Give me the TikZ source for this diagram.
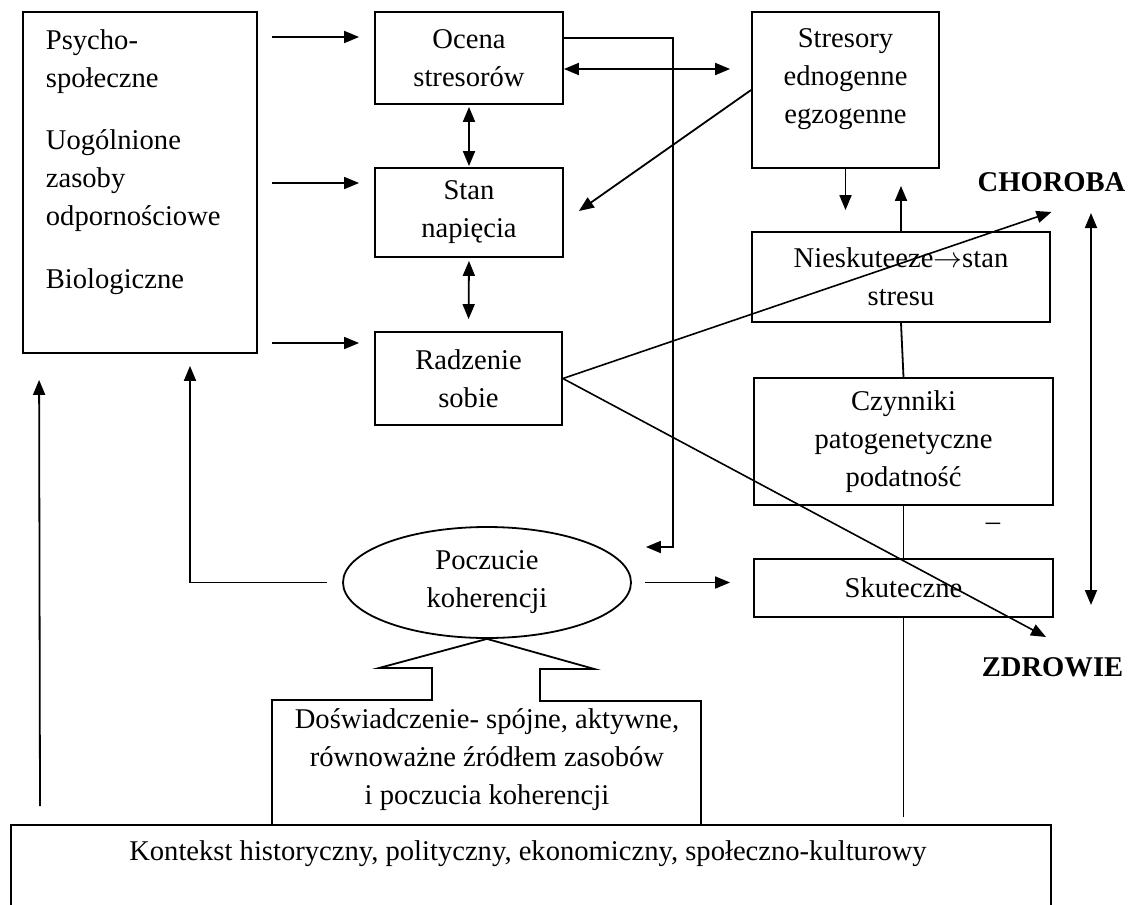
\documentclass[tikz,border=0pt]{standalone}
\usepackage{fontspec}
\setmainfont{Liberation Serif}
\usetikzlibrary{arrows.meta,shapes.geometric,calc}

\begin{document}
\begin{tikzpicture}[x=0.5pt, y=-0.5pt, line width=0.9pt,
    >={Triangle[length=7.5pt,width=6pt]},
    font=\fontsize{14.3}{19}\selectfont,
    blok/.style={draw, align=center, inner sep=0pt},
    tekst/.style={align=center, inner sep=0pt},
    biegun/.style={font=\fontsize{14.3}{19}\selectfont\bfseries}]
  \useasboundingbox (0,0) rectangle (1130,905);

  \node[blok, minimum width=117pt, minimum height=170.5pt] (zasoby) at (140,182.5) {};
  \node[anchor=north west, align=left, inner sep=0pt] (zasobyTxt) at (45,29)
    {Psycho-\\społeczne\\[12pt]Uogólnione\\zasoby\\odpornościowe\\[12.5pt]Biologiczne};

  \node[blok, minimum width=94pt, minimum height=46pt] (ocena) at (469,58) {Ocena\\stresorów};
  \node[blok, minimum width=94pt, minimum height=44.5pt] (stan) at (469,212.5) {Stan\\napięcia};
  \node[blok, minimum width=93.5pt, minimum height=46.5pt] (radzenie) at (468.5,378.5) {Radzenie\\sobie};

  \node[blok, minimum width=93.5pt, minimum height=78pt] (stresory) at (845.5,90) {};
  \node[tekst, anchor=north] (stresoryTxt) at (845.5,28) {Stresory\\ednogenne\\egzogenne};
  \node[blok, minimum width=149pt, minimum height=45pt] (nieskut) at (901,277) {Nieskuteeze\ensuremath{\rightarrow}stan\\stresu};
  \node[blok, minimum width=149.5pt, minimum height=63.5pt] (czynniki) at (903.5,441.5) {Czynniki\\patogenetyczne\\podatność};
  \node[blok, minimum width=149.5pt, minimum height=29pt] (skuteczne) at (903.5,588) {Skuteczne};
  \node (minus) at (993,527) {–};

  \node[biegun] (choroba) at (1051.5,182) {CHOROBA};
  \node[biegun] (zdrowie) at (1052.5,667) {ZDROWIE};

  \node[draw, ellipse, minimum width=144pt, minimum height=55.5pt, inner sep=0pt, align=center] (poczucie) at (487,582.5) {Poczucie\\koherencji};
  \node[tekst] (doswiadczenie) at (487,760) {Doświadczenie- spójne, aktywne,\\równoważne źródłem zasobów\\i poczucia koherencji};

  \node[blok, anchor=north west, minimum width=520pt, minimum height=46pt] (kontekst) at (10,824) {};
  \node[tekst] (kontekstTxt) at (528,853.5) {Kontekst historyczny, polityczny, ekonomiczny, społeczno-kulturowy};

  \draw[->] ($(zasoby.east |- ocena.west)+(14,-21)$) -- ($(ocena.west)+(-15,-21)$);
  \draw[->] ($(zasoby.east |- stan.west)+(14,-29.5)$) -- ($(stan.west)+(-15,-29.5)$);
  \draw[->] ($(zasoby.east |- radzenie.west)+(14,-35.5)$) -- ($(radzenie.west)+(-15,-35.5)$);

  \draw[<->, shorten <=1pt, shorten >=0.5pt] (ocena.south) -- (stan.north);
  \draw[<->, shorten <=1.5pt, shorten >=6pt] (stan.south) -- (radzenie.north);
  \draw[<->, shorten >=10.5pt] ($(ocena.east)+(0,11)$) -- ($(stresory.west |- ocena.east)+(0,11)$);
  \draw[->] ($(ocena.east)+(0,-20)$) -| ($(poczucie.east)+(41,-35.5)$) -- ($(poczucie.east)+(14,-35.5)$);
  \draw[->] (stresory.west) -- ($(stan.east)+(15,-1.5)$);

  \draw[->, shorten >=10.5pt] (stresory.south) -- (stresory.south |- nieskut.north);
  \draw[->, shorten >=8.5pt] (nieskut.north) -- (nieskut.north |- stresory.south);
  \draw (nieskut.south) -- (czynniki.north);
  \draw (czynniki.south) -- (skuteczne.north);
  \draw (skuteczne.south) -- ($(skuteczne.south |- kontekst.north)+(0,-7)$);

  \draw[->, line width=0.8pt] (radzenie.east) -- ($(choroba.center)+(0,30)$);
  \draw[->, line width=0.8pt] (radzenie.east) -- ($(zdrowie.center)+(-6.5,-30)$);
  \draw[<->] ($(choroba.center)+(39.5,31)$) -- ($(zdrowie.center)+(38.5,-62)$);

  \draw[->, shorten <=6.5pt, shorten >=11.5pt] (poczucie.east) -- (poczucie.east -| skuteczne.west);
  \draw[->, shorten <=7.5pt, shorten >=6pt] (poczucie.west) -| ($(zasoby.south)+(50,0)$);
  \draw[->] ($(kontekst.north west)+(30,-18)$) -- ($(zasoby.south west)+(17,26)$);

  \draw ($(kontekst.north west)+(262,0)$) -- ++(0,-124) -- ++(160,0) -- ++(0,-32) -- ++(-53,0)
    -- (poczucie.south) -- ++(107,30) -- ++(-54,0) -- ++(0,32) -- ++(161,0) -- ++(0,124);
\end{tikzpicture}
\end{document}
